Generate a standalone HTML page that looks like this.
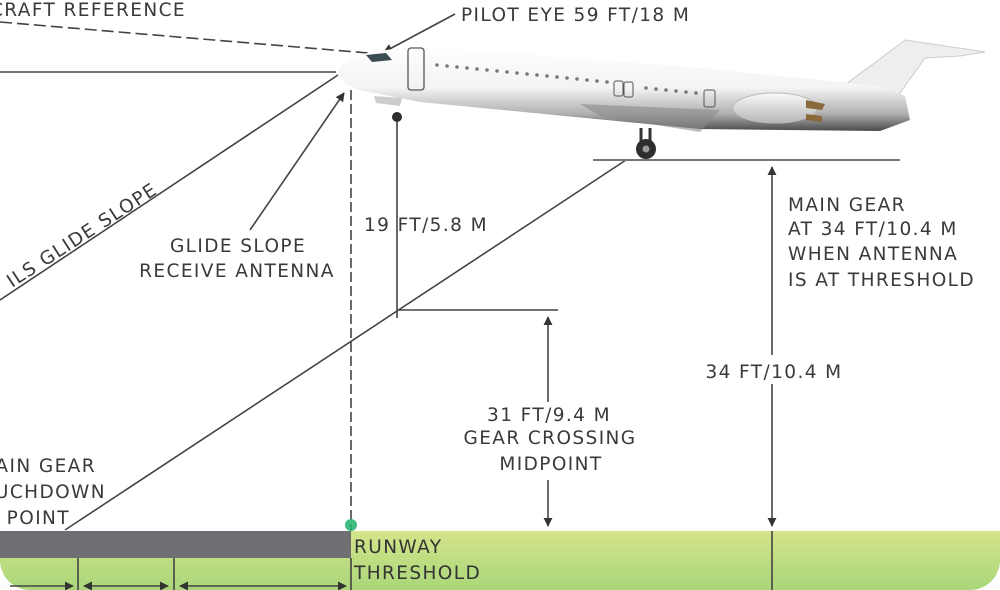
<!DOCTYPE html>
<html><head><meta charset="utf-8"><style>
html,body{margin:0;padding:0;background:#fff;}
svg{display:block;}
text{font-family:"DejaVu Sans","Liberation Sans",sans-serif;font-size:18.5px;letter-spacing:1.4px;fill:#3a3a3a;}
</style></head><body>
<svg width="1000" height="590" viewBox="0 0 1000 590" xmlns="http://www.w3.org/2000/svg">
<defs>
<linearGradient id="grass" x1="0" y1="0" x2="0" y2="1">
<stop offset="0" stop-color="#d4e48a"/><stop offset="1" stop-color="#a9d67a"/>
</linearGradient>
<linearGradient id="fus" x1="0" y1="0" x2="0" y2="1">
<stop offset="0" stop-color="#ffffff"/><stop offset="0.5" stop-color="#f3f3f3"/><stop offset="0.8" stop-color="#b0b0b0"/><stop offset="1" stop-color="#4a4a4a"/>
</linearGradient>
<linearGradient id="eng" x1="0" y1="0" x2="0" y2="1">
<stop offset="0" stop-color="#fafafa"/><stop offset="1" stop-color="#b5b5b5"/>
</linearGradient>
<clipPath id="card"><path d="M0 0H1000V560A30 30 0 0 1 970 590H30A30 30 0 0 1 0 560Z"/></clipPath>
<marker id="ah" viewBox="0 0 10 10" refX="9" refY="5" markerWidth="9" markerHeight="9" orient="auto-start-reverse" markerUnits="userSpaceOnUse"><path d="M0 0L10 5L0 10Z" fill="#333"/></marker>
</defs>
<g clip-path="url(#card)">
<rect x="0" y="531" width="1000" height="60" fill="url(#grass)"/>
<rect x="0" y="531" width="351" height="27" fill="#6e6e73"/>
</g>
<g stroke="#444" stroke-width="1.6" fill="none">
<path d="M0 22L380 54" stroke-dasharray="12 5"/>
<path d="M0 72H336"/>
<path d="M0 300L338 75"/>
<path d="M455 14L384 52" marker-end="url(#ah)"/>
<path d="M250 230L344 93" marker-end="url(#ah)"/>
<path d="M351 90V531" stroke-dasharray="10 4"/>
<path d="M397 120V318"/>
<path d="M397 310H558"/>
<path d="M65 530L626 160"/>
<path d="M593 160H900" stroke="#777" stroke-width="2"/>
<path d="M772 167V355" marker-start="url(#ah)"/>
<path d="M772 384V526" marker-end="url(#ah)"/>
<path d="M772 531V590"/>
<path d="M548 317V402" marker-start="url(#ah)"/>
<path d="M548 480V526" marker-end="url(#ah)"/>
<path d="M78 558V590M174 558V590M351 558V590"/>
<path d="M10 586H73" marker-end="url(#ah)"/>
<path d="M84 586H168" marker-start="url(#ah)" marker-end="url(#ah)"/>
<path d="M180 586H346" marker-start="url(#ah)" marker-end="url(#ah)"/>
</g>
<circle cx="351" cy="525" r="6" fill="#2bb673" opacity="0.9"/>
<!-- aircraft -->
<g>
<path d="M905 40L985 52L960 56L925 58L895 100L830 96Z" fill="#eeeeee" stroke="#ccc" stroke-width="1"/>
<path d="M338 72Q342 58 372 52L420 45L700 68L880 86L905 96L910 120L880 131L700 129L420 102L360 90Q340 84 338 72Z" fill="url(#fus)"/>
<path d="M580 104L720 110L700 132L600 116Z" fill="#8a8a8a" opacity="0.6"/>
<ellipse cx="775" cy="108" rx="42" ry="15" fill="url(#eng)" stroke="#bbb"/>
<path d="M806 100L825 104L822 110L806 108ZM806 114L822 116L822 122L806 120Z" fill="#8a6a3a"/>
<rect x="408" y="48" width="16" height="42" rx="3" fill="none" stroke="#555" stroke-width="1.3"/>
<rect x="614" y="81" width="9" height="15" rx="2" fill="none" stroke="#555"/>
<rect x="624" y="82" width="9" height="15" rx="2" fill="none" stroke="#555"/>
<rect x="704" y="90" width="11" height="17" rx="2" fill="none" stroke="#555"/>
<path d="M366 55L386 53L392 60L372 62Z" fill="#3c4c55"/>
<path d="M374 96L402 98L400 106L376 103Z" fill="#ccc"/>
<g fill="#777">
<circle cx="437" cy="65" r="1.8"/><circle cx="447" cy="66" r="1.8"/><circle cx="457" cy="67" r="1.8"/><circle cx="467" cy="68" r="1.8"/><circle cx="477" cy="69" r="1.8"/><circle cx="487" cy="70" r="1.8"/><circle cx="497" cy="71" r="1.8"/><circle cx="507" cy="72" r="1.8"/><circle cx="517" cy="73" r="1.8"/><circle cx="527" cy="74" r="1.8"/><circle cx="537" cy="75" r="1.8"/><circle cx="547" cy="76" r="1.8"/><circle cx="557" cy="77" r="1.8"/><circle cx="567" cy="78" r="1.8"/><circle cx="577" cy="79" r="1.8"/><circle cx="587" cy="80" r="1.8"/><circle cx="597" cy="81" r="1.8"/><circle cx="607" cy="82" r="1.8"/>
<circle cx="646" cy="88" r="1.8"/><circle cx="656" cy="89" r="1.8"/><circle cx="666" cy="90" r="1.8"/><circle cx="676" cy="91" r="1.8"/><circle cx="686" cy="92" r="1.8"/><circle cx="696" cy="93" r="1.8"/>
</g>
<path d="M641 128V145M650 128V145" stroke="#333" stroke-width="3"/>
<circle cx="646" cy="149" r="10" fill="#2e2e2e"/><circle cx="646" cy="149" r="3.5" fill="#999"/>
<circle cx="397" cy="117" r="5" fill="#2e2e2e"/>
</g>
<!-- labels -->
<text x="186" y="16" text-anchor="end">AIRCRAFT REFERENCE</text>
<text x="461" y="21">PILOT EYE 59 FT/18 M</text>
<text x="238" y="252" text-anchor="middle">GLIDE SLOPE</text>
<text x="237" y="277" text-anchor="middle">RECEIVE ANTENNA</text>
<text transform="translate(12,288) rotate(-33)">ILS GLIDE SLOPE</text>
<text x="364" y="231">19 FT/5.8 M</text>
<text x="788" y="211">MAIN GEAR</text>
<text x="788" y="235">AT 34 FT/10.4 M</text>
<text x="788" y="260">WHEN ANTENNA</text>
<text x="788" y="286">IS AT THRESHOLD</text>
<text x="774" y="378" text-anchor="middle">34 FT/10.4 M</text>
<text x="549" y="421" text-anchor="middle">31 FT/9.4 M</text>
<text x="550" y="444" text-anchor="middle">GEAR CROSSING</text>
<text x="551" y="470" text-anchor="middle">MIDPOINT</text>
<text x="96" y="472" text-anchor="end">MAIN GEAR</text>
<text x="106" y="498" text-anchor="end">TOUCHDOWN</text>
<text x="70" y="524" text-anchor="end">POINT</text>
<text x="354" y="553" style="fill:#333">RUNWAY</text>
<text x="354" y="579" style="fill:#333">THRESHOLD</text>
</svg>
</body></html>
